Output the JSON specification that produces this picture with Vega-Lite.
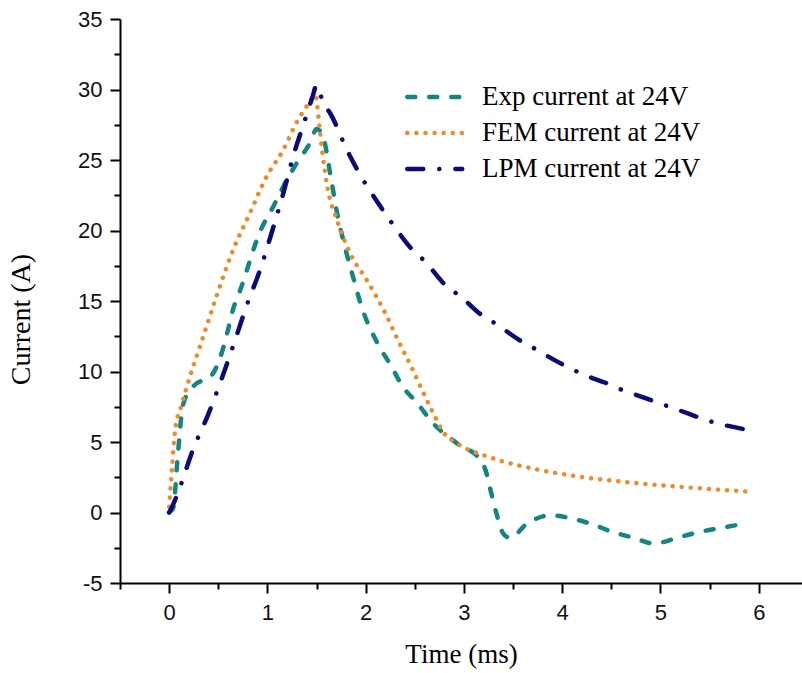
{
  "$schema": "https://vega.github.io/schema/vega-lite/v6.json",
  "width": 682,
  "height": 564,
  "autosize": "none",
  "padding": {"left": 120, "top": 19, "right": 0, "bottom": 90},
  "background": "white",
  "config": {"view": {"stroke": null}},
  "data": {"values": [
    {"s":"Exp current at 24V","t":0,"i":0},
    {"s":"Exp current at 24V","t":0.04,"i":0.3},
    {"s":"Exp current at 24V","t":0.09,"i":4.2},
    {"s":"Exp current at 24V","t":0.14,"i":7.6},
    {"s":"Exp current at 24V","t":0.24,"i":8.9},
    {"s":"Exp current at 24V","t":0.44,"i":9.8},
    {"s":"Exp current at 24V","t":0.52,"i":11},
    {"s":"Exp current at 24V","t":0.59,"i":12.7},
    {"s":"Exp current at 24V","t":0.65,"i":14.4},
    {"s":"Exp current at 24V","t":0.72,"i":15.7},
    {"s":"Exp current at 24V","t":0.93,"i":20},
    {"s":"Exp current at 24V","t":1.06,"i":21.7},
    {"s":"Exp current at 24V","t":1.16,"i":23.1},
    {"s":"Exp current at 24V","t":1.3,"i":24.8},
    {"s":"Exp current at 24V","t":1.44,"i":26.3},
    {"s":"Exp current at 24V","t":1.5,"i":27.2},
    {"s":"Exp current at 24V","t":1.56,"i":26.8},
    {"s":"Exp current at 24V","t":1.64,"i":24},
    {"s":"Exp current at 24V","t":1.71,"i":21.2},
    {"s":"Exp current at 24V","t":1.79,"i":18.8},
    {"s":"Exp current at 24V","t":1.88,"i":16.5},
    {"s":"Exp current at 24V","t":1.94,"i":15},
    {"s":"Exp current at 24V","t":2.12,"i":12},
    {"s":"Exp current at 24V","t":2.25,"i":10.5},
    {"s":"Exp current at 24V","t":2.38,"i":8.9},
    {"s":"Exp current at 24V","t":2.52,"i":7.8},
    {"s":"Exp current at 24V","t":2.69,"i":6.3},
    {"s":"Exp current at 24V","t":2.93,"i":4.9},
    {"s":"Exp current at 24V","t":3.17,"i":3.7},
    {"s":"Exp current at 24V","t":3.22,"i":3.0},
    {"s":"Exp current at 24V","t":3.27,"i":1.6},
    {"s":"Exp current at 24V","t":3.34,"i":-0.3},
    {"s":"Exp current at 24V","t":3.4,"i":-1.5},
    {"s":"Exp current at 24V","t":3.47,"i":-1.8},
    {"s":"Exp current at 24V","t":3.64,"i":-0.8},
    {"s":"Exp current at 24V","t":3.88,"i":-0.2},
    {"s":"Exp current at 24V","t":4.08,"i":-0.4},
    {"s":"Exp current at 24V","t":4.29,"i":-0.8},
    {"s":"Exp current at 24V","t":4.52,"i":-1.4},
    {"s":"Exp current at 24V","t":4.73,"i":-1.8},
    {"s":"Exp current at 24V","t":4.93,"i":-2.2},
    {"s":"Exp current at 24V","t":5.17,"i":-1.8},
    {"s":"Exp current at 24V","t":5.38,"i":-1.4},
    {"s":"Exp current at 24V","t":5.61,"i":-1.1},
    {"s":"Exp current at 24V","t":5.85,"i":-0.8},
    {"s":"FEM current at 24V","t":0,"i":0.4},
    {"s":"FEM current at 24V","t":0.03,"i":3.2},
    {"s":"FEM current at 24V","t":0.06,"i":5.8},
    {"s":"FEM current at 24V","t":0.13,"i":7.7},
    {"s":"FEM current at 24V","t":0.21,"i":9.6},
    {"s":"FEM current at 24V","t":0.3,"i":11.5},
    {"s":"FEM current at 24V","t":0.39,"i":13.4},
    {"s":"FEM current at 24V","t":0.49,"i":15.5},
    {"s":"FEM current at 24V","t":0.65,"i":18.6},
    {"s":"FEM current at 24V","t":0.82,"i":21.2},
    {"s":"FEM current at 24V","t":0.99,"i":23.8},
    {"s":"FEM current at 24V","t":1.16,"i":25.7},
    {"s":"FEM current at 24V","t":1.3,"i":27.7},
    {"s":"FEM current at 24V","t":1.42,"i":29},
    {"s":"FEM current at 24V","t":1.49,"i":29.6},
    {"s":"FEM current at 24V","t":1.52,"i":28},
    {"s":"FEM current at 24V","t":1.56,"i":25.5},
    {"s":"FEM current at 24V","t":1.61,"i":23.1},
    {"s":"FEM current at 24V","t":1.71,"i":20.7},
    {"s":"FEM current at 24V","t":1.84,"i":18.4},
    {"s":"FEM current at 24V","t":2.01,"i":16.5},
    {"s":"FEM current at 24V","t":2.18,"i":14.4},
    {"s":"FEM current at 24V","t":2.33,"i":12.2},
    {"s":"FEM current at 24V","t":2.48,"i":10.1},
    {"s":"FEM current at 24V","t":2.6,"i":8.3},
    {"s":"FEM current at 24V","t":2.69,"i":7.0},
    {"s":"FEM current at 24V","t":2.79,"i":5.7},
    {"s":"FEM current at 24V","t":2.93,"i":4.9},
    {"s":"FEM current at 24V","t":3.27,"i":3.9},
    {"s":"FEM current at 24V","t":3.71,"i":3.1},
    {"s":"FEM current at 24V","t":4.22,"i":2.5},
    {"s":"FEM current at 24V","t":4.73,"i":2.1},
    {"s":"FEM current at 24V","t":5.24,"i":1.8},
    {"s":"FEM current at 24V","t":5.95,"i":1.45},
    {"s":"LPM current at 24V","t":0,"i":0},
    {"s":"LPM current at 24V","t":0.03,"i":0.4},
    {"s":"LPM current at 24V","t":0.11,"i":1.8},
    {"s":"LPM current at 24V","t":0.24,"i":4.4},
    {"s":"LPM current at 24V","t":0.4,"i":7.0},
    {"s":"LPM current at 24V","t":0.54,"i":9.6},
    {"s":"LPM current at 24V","t":0.67,"i":12.2},
    {"s":"LPM current at 24V","t":0.79,"i":14.7},
    {"s":"LPM current at 24V","t":0.93,"i":17.3},
    {"s":"LPM current at 24V","t":1.05,"i":20},
    {"s":"LPM current at 24V","t":1.16,"i":22.6},
    {"s":"LPM current at 24V","t":1.26,"i":25.2},
    {"s":"LPM current at 24V","t":1.38,"i":27.8},
    {"s":"LPM current at 24V","t":1.46,"i":29.5},
    {"s":"LPM current at 24V","t":1.5,"i":30.3},
    {"s":"LPM current at 24V","t":1.57,"i":29},
    {"s":"LPM current at 24V","t":1.64,"i":28.3},
    {"s":"LPM current at 24V","t":1.81,"i":25.7},
    {"s":"LPM current at 24V","t":1.94,"i":24},
    {"s":"LPM current at 24V","t":2.15,"i":21.7},
    {"s":"LPM current at 24V","t":2.27,"i":20.5},
    {"s":"LPM current at 24V","t":2.48,"i":18.6},
    {"s":"LPM current at 24V","t":2.59,"i":17.9},
    {"s":"LPM current at 24V","t":2.83,"i":16},
    {"s":"LPM current at 24V","t":2.95,"i":15.4},
    {"s":"LPM current at 24V","t":3.2,"i":13.9},
    {"s":"LPM current at 24V","t":3.32,"i":13.4},
    {"s":"LPM current at 24V","t":3.57,"i":12.2},
    {"s":"LPM current at 24V","t":3.7,"i":11.7},
    {"s":"LPM current at 24V","t":3.95,"i":10.7},
    {"s":"LPM current at 24V","t":4.06,"i":10.3},
    {"s":"LPM current at 24V","t":4.32,"i":9.5},
    {"s":"LPM current at 24V","t":4.44,"i":9.2},
    {"s":"LPM current at 24V","t":4.57,"i":8.8},
    {"s":"LPM current at 24V","t":4.73,"i":8.4},
    {"s":"LPM current at 24V","t":5.17,"i":7.3},
    {"s":"LPM current at 24V","t":5.54,"i":6.4},
    {"s":"LPM current at 24V","t":5.94,"i":5.8}
  ]},
  "mark": {"type": "line", "strokeWidth": 4.5, "strokeCap": "round", "clip": true, "interpolate": "monotone"},
  "encoding": {
    "x": {
      "field": "t", "type": "quantitative",
      "scale": {"domain": [-0.5, 6.44], "nice": false, "zero": false},
      "axis": {
        "title": "Time (ms)",
        "values": [-0.5, 0, 0.5, 1, 1.5, 2, 2.5, 3, 3.5, 4, 4.5, 5, 5.5, 6],
        "labelExpr": "datum.value % 1 === 0 ? '' + datum.value : ''",
        "grid": false,
        "domainColor": "#000", "domainWidth": 2,
        "tickColor": "#000", "tickWidth": 2,
        "tickSize": {"condition": {"test": "datum.value % 1 === 0", "value": 10}, "value": 6},
        "labelFont": "Liberation Sans", "labelFontSize": 22, "labelColor": "#111",
        "labelPadding": 9, "labelFlush": false,
        "titleFont": "Liberation Serif", "titleFontSize": 27, "titleFontWeight": "normal",
        "titleColor": "#000", "titlePadding": 18
      }
    },
    "y": {
      "field": "i", "type": "quantitative",
      "scale": {"domain": [-5, 35], "nice": false, "zero": false},
      "axis": {
        "title": "Current (A)",
        "values": [-5, -2.5, 0, 2.5, 5, 7.5, 10, 12.5, 15, 17.5, 20, 22.5, 25, 27.5, 30, 32.5, 35],
        "labelExpr": "datum.value % 5 === 0 ? '' + datum.value : ''",
        "grid": false,
        "domainColor": "#000", "domainWidth": 2,
        "tickColor": "#000", "tickWidth": 2,
        "tickSize": {"condition": {"test": "datum.value % 5 === 0", "value": 10}, "value": 6},
        "labelFont": "Liberation Sans", "labelFontSize": 22, "labelColor": "#111",
        "labelPadding": 8, "labelFlush": false,
        "titleFont": "Liberation Serif", "titleFontSize": 28, "titleFontWeight": "normal",
        "titleColor": "#000", "titlePadding": 42, "titleY": 300
      }
    },
    "color": {
      "field": "s", "type": "nominal",
      "scale": {"domain": ["Exp current at 24V", "FEM current at 24V", "LPM current at 24V"], "range": ["#13877f", "#f08a28", "#0a0a78"]},
      "legend": {
        "title": null,
        "orient": "none",
        "legendX": 285,
        "legendY": 62,
        "padding": 0,
        "symbolType": "M-1,0H3",
        "symbolSize": 756,
        "symbolStrokeWidth": 4.5,
        "labelFont": "Liberation Serif",
        "labelFontSize": 27,
        "labelColor": "#000",
        "labelOffset": 45,
        "rowPadding": 7,
        "labelLimit": 400,
        "encode": {"symbols": {"update": {"strokeCap": {"value": "round"}}}}
      }
    },
    "strokeDash": {
      "field": "s", "type": "nominal",
      "scale": {"domain": ["Exp current at 24V", "FEM current at 24V", "LPM current at 24V"], "range": [[8, 14], [0.1, 9], [16, 16, 0.1, 16]]},
      "legend": {
        "title": null,
        "orient": "none",
        "legendX": 285,
        "legendY": 62,
        "padding": 0,
        "symbolType": "M-1,0H3",
        "symbolSize": 756,
        "symbolStrokeWidth": 4.5,
        "labelFont": "Liberation Serif",
        "labelFontSize": 27,
        "labelColor": "#000",
        "labelOffset": 45,
        "rowPadding": 7,
        "labelLimit": 400,
        "encode": {"symbols": {"update": {"strokeCap": {"value": "round"}}}}
      }
    }
  }
}
